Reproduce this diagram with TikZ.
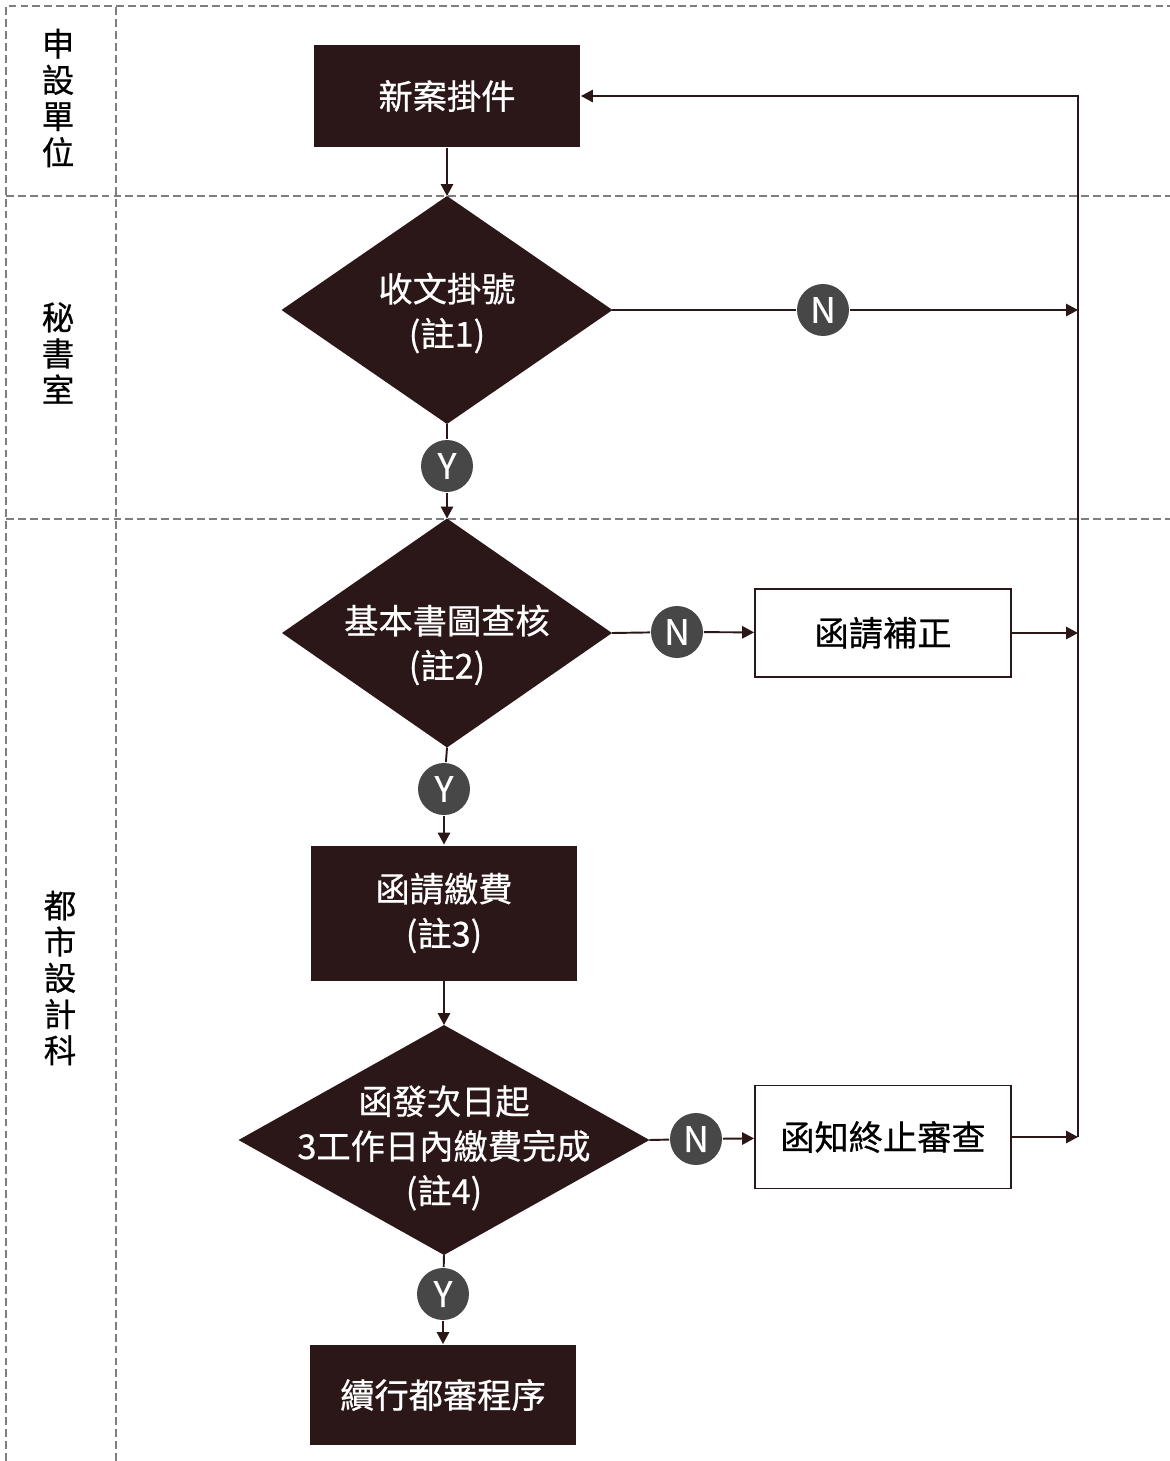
\documentclass[tikz,border=0pt]{standalone}
\usepackage{fontspec}
\usepackage{tikz}
\usetikzlibrary{arrows.meta,shapes.geometric}
\newfontfamily\cjk[FakeBold=0.6]{Noto Sans CJK TC}
\definecolor{darkbrown}{HTML}{2B1718}
\definecolor{markgray}{HTML}{474747}
\definecolor{lanegray}{HTML}{7E7E7E}

\begin{document}
\begin{tikzpicture}
[> = {Triangle[length=6.8pt,width=7pt]}, % arrow head style
x=0.02cm, y=-0.02cm,
line width=1.1pt, draw=darkbrown,
lane/.style={draw=lanegray,line width=1.3pt,dash pattern=on 4.5pt off 2.3pt},
lanename/.style={font=\cjk\fontsize{18.5}{20.6}\selectfont,align=center,inner sep=0pt},
task/.style={rectangle,fill=darkbrown,text=white,inner sep=0pt,font=\cjk\fontsize{19.5}{25.5}\selectfont,align=center},
notice/.style={rectangle,draw=darkbrown,fill=white,inner sep=0pt,font=\cjk\fontsize{19.5}{25.5}\selectfont},
check/.style={diamond,fill=darkbrown,inner sep=0pt,outer sep=0pt},
checktext/.style={text=white,font=\cjk\fontsize{19.5}{25.5}\selectfont,align=center,inner sep=0pt},
answer/.style={circle,fill=markgray,text=white,inner sep=0pt,minimum size=1.04cm,font=\cjk\fontsize{20}{20}\selectfont}]
\useasboundingbox (0,0) rectangle (1170,1461);

% swim lanes
\draw[lane] (6,1461) -- (6,6) -- (1170,6);
\draw[lane] (116,1461) -- (116,6);
\draw[lane] (6,196) -- (1170,196);
\draw[lane] (6,519) -- (1170,519);
\node[lanename] (lane1) at (58,98) {申\\設\\單\\位};
\node[lanename] (lane2) at (58,353) {秘\\書\\室};
\node[lanename] (lane3) at (60,978) {都\\市\\設\\計\\科};

% steps
\node[task,minimum width=5.32cm,minimum height=2.04cm] (new) at (447,96) {新案掛件};
\node[check,minimum width=6.62cm,minimum height=4.56cm] (reg) at (447,310) {};
\node[checktext] (regt) at (447,313) {收文掛號\\(註1)};
\node[check,minimum width=6.6cm,minimum height=4.58cm] (doc) at (447,633) {};
\node[checktext] (doct) at (447,645) {基本書圖查核\\(註2)};
\node[task,minimum width=5.32cm,minimum height=2.7cm] (fee) at (444,913) {函請繳費\\(註3)};
\node[check,minimum width=8.22cm,minimum height=4.6cm] (pay) at (444,1140) {};
\node[checktext] (payt) at (444,1148) {函發次日起\\3工作日內繳費完成\\(註4)};
\node[task,minimum width=5.34cm,minimum height=2.0cm] (cont) at (443,1395) {續行都審程序};
\node[notice,minimum width=5.12cm,minimum height=1.76cm] (fix) at (883,633) {函請補正};
\node[notice,minimum width=5.12cm,minimum height=2.06cm] (stop) at (883,1137) {函知終止審查};

% Y / N marks
\node[answer] (y1) at (447,466) {Y};
\node[answer] (y2) at (444,789) {Y};
\node[answer] (y3) at (443,1294) {Y};
\node[answer] (n1) at (823,310) {N};
\node[answer] (n2) at (677,632) {N};
\node[answer] (n3) at (696,1139) {N};

% return line
\coordinate (back) at (1078,96);
\coordinate (j1) at (1078,310);
\coordinate (j2) at (1078,633);
\coordinate (j3) at (1078,1137);

\draw[->] (new) -- (reg.north);
\draw (reg.south) -- (y1);
\draw[->] (y1) -- (doc.north);
\draw (doc.south) -- (y2);
\draw[->] (y2) -- (fee);
\draw[->] (fee) -- (pay.north);
\draw (pay.south) -- (y3);
\draw[->] (y3) -- (cont);
\draw (reg.east) -- (n1);
\draw[->] (n1) -- (j1);
\draw (doc.east) -- (n2);
\draw[->] (n2) -- (fix);
\draw (pay.east) -- (n3);
\draw[->] (n3) -- (stop);
\draw[->] (fix) -- (j2);
\draw[->] (stop) -- (j3);
\draw[->] (j3) -- (back) -- (new.east);
\end{tikzpicture}
\end{document}
